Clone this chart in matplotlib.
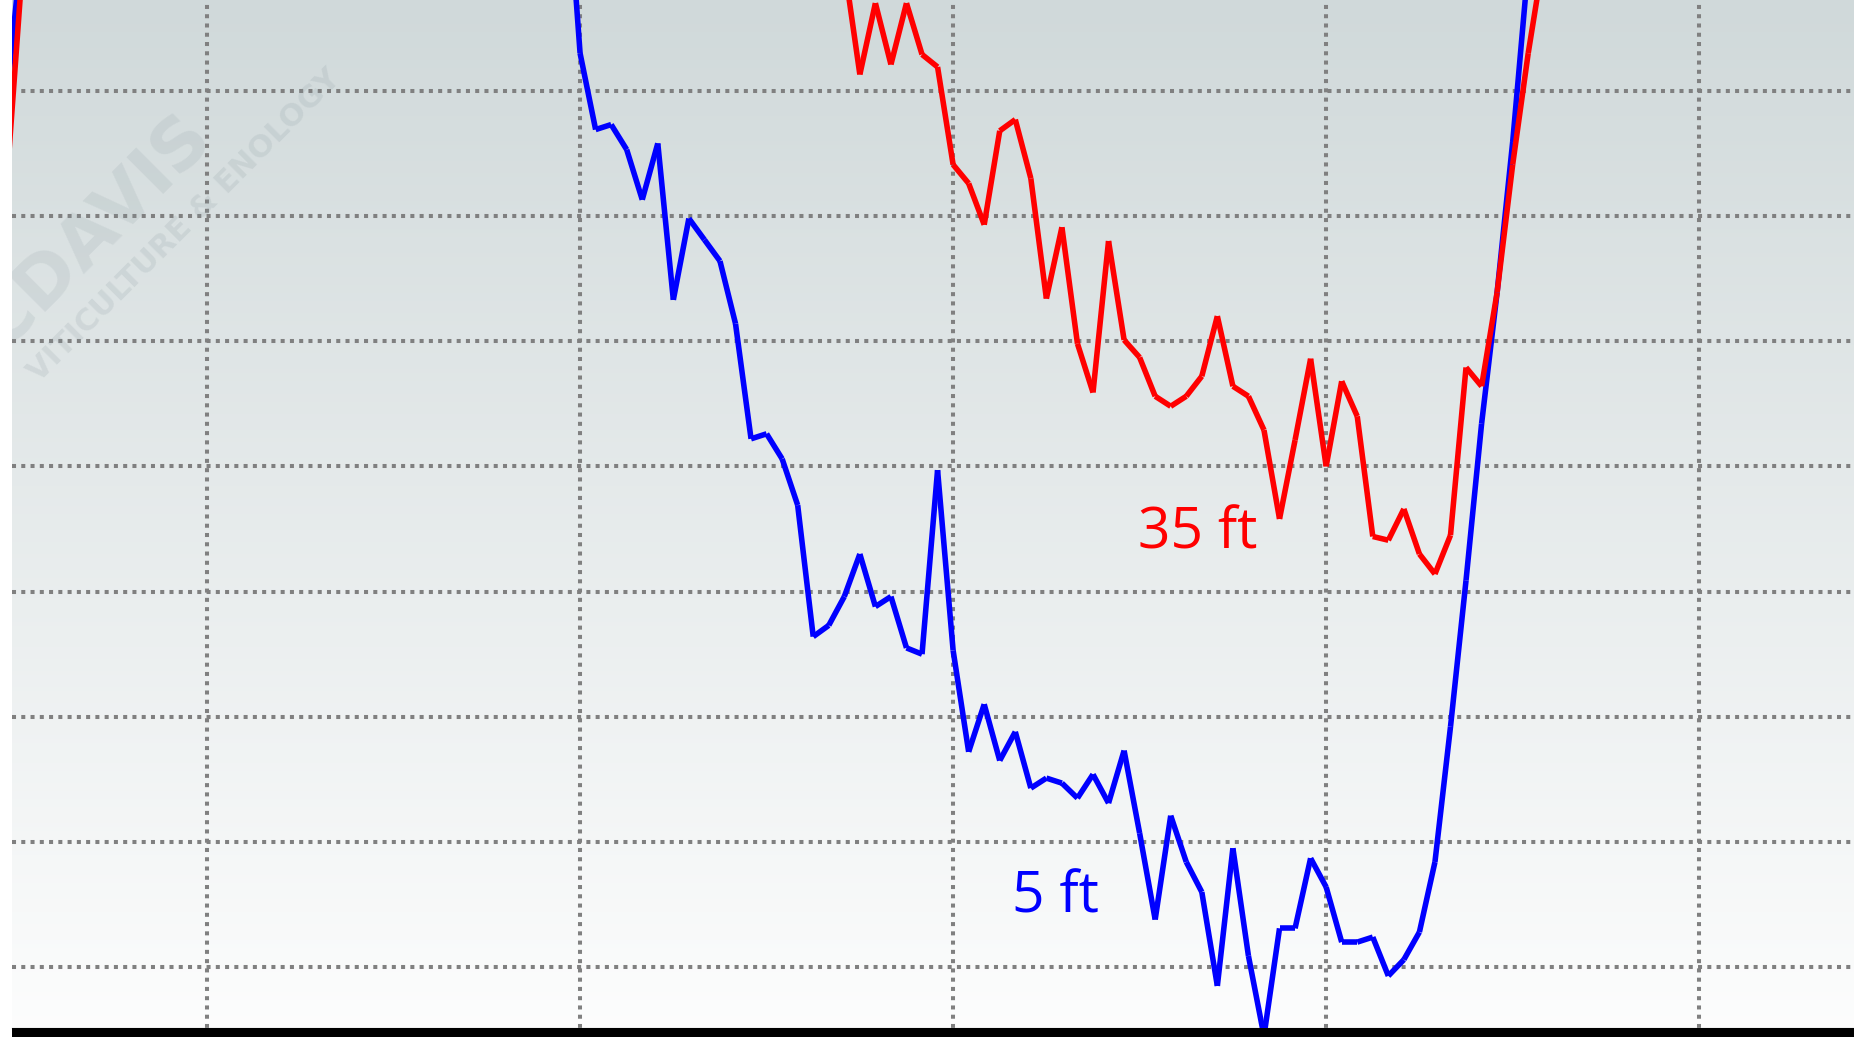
import numpy as np
import matplotlib.pyplot as plt
from matplotlib.collections import LineCollection
from matplotlib.patches import Rectangle

# logger readings every 15 min, x = hours since midnight of day 1
step = 0.25
start_5ft = 17.75
temp_5ft = [37.0, 35.30, 34.69, 34.73, 34.53, 34.13, 34.58, 33.33, 33.98, 33.81,
            33.64, 33.14, 32.22, 32.26, 32.06, 31.69, 30.64, 30.73, 30.96, 31.30,
            30.88, 30.96, 30.55, 30.50, 31.97, 30.53, 29.72, 30.10, 29.65, 29.88,
            29.43, 29.51, 29.47, 29.35, 29.54, 29.31, 29.73, 29.07, 28.38, 29.21,
            28.84, 28.60, 27.85, 28.95, 28.09, 27.45, 28.31, 28.31, 28.87, 28.64,
            28.20, 28.20, 28.24, 27.93, 28.06, 28.28, 28.84, 29.92, 31.09, 32.34,
            33.39, 34.59, 36.0]
start_35ft = 22.25
temp_35ft = [36.0, 35.13, 35.70, 35.21, 35.70, 35.29, 35.19, 34.41, 34.26, 33.93,
             34.68, 34.77, 34.30, 33.34, 33.91, 32.98, 32.59, 33.80, 33.01, 32.87,
             32.56, 32.48, 32.56, 32.72, 33.20, 32.64, 32.56, 32.29, 31.58, 32.21,
             32.86, 32.00, 32.68, 32.40, 31.44, 31.41, 31.66, 31.30, 31.14, 31.45,
             32.79, 32.64, 33.39, 34.41, 35.30, 36.07]
# end of the previous morning's warm-up (left edge)
morning_hours = [8.75, 9.0, 9.25]
morning_5ft = [34.8, 36.05, 37.3]
morning_35ft = [34.07, 35.78, 37.5]

grid_hours = [12, 18, 24, 30, 36]
grid_temps = [28, 29, 30, 31, 32, 33, 34, 35]

hours_5ft = start_5ft + step * np.arange(len(temp_5ft))
hours_35ft = start_35ft + step * np.arange(len(temp_35ft))

W, H = 1854, 1037
fig = plt.figure(figsize=(W / 100, H / 100), dpi=100)
fig.patch.set_facecolor('white')
ax = fig.add_axes([12 / W, 9 / H, (W - 12) / W, (H - 9) / H])

ax.set_xlim(8.863, 38.49)
ax.set_ylim(27.514, 35.725)

# background gradient
grad = np.linspace(0, 1, 256)[:, None]
top = np.array([0.816, 0.851, 0.855])
bot = np.array([0.99, 0.992, 0.992])
img = top + (bot - top) * grad[:, :, None]
ax.imshow(img, extent=[0, 1, 0, 1], transform=ax.transAxes, aspect='auto', zorder=0)

# watermark
ax.text(0.033, 0.757, 'UCDAVIS', transform=ax.transAxes, rotation=45,
        ha='center', va='center', fontsize=52, fontweight='bold',
        color='#8a9aa0', alpha=0.16, clip_on=True, zorder=1)
ax.text(0.0939, 0.7811, 'VITICULTURE & ENOLOGY', transform=ax.transAxes, rotation=45,
        ha='center', va='center', fontsize=22, fontweight='bold',
        color='#8a9aa0', alpha=0.18, clip_on=True, zorder=1)

ax.set_xticks(grid_hours)
ax.set_yticks(grid_temps)
ax.tick_params(length=0, labelbottom=False, labelleft=False)
ax.grid(True, color='#808080', linewidth=2.9, linestyle=(0, (1.0, 1.3)))
ax.set_axisbelow(True)
for s in ['top', 'left', 'right']:
    ax.spines[s].set_visible(False)
ax.spines['bottom'].set_color('#c0c0c0')
ax.spines['bottom'].set_linewidth(1)


def draw(x, y, color):
    pts = np.column_stack([x, y])
    segs = np.stack([pts[:-1], pts[1:]], axis=1)
    ax.add_collection(LineCollection(segs, colors=color, linewidths=4.0,
                                     capstyle='butt', zorder=3))


draw(morning_hours, morning_5ft, '#0000ff')
draw(hours_5ft, temp_5ft, '#0000ff')
draw(morning_hours, morning_35ft, '#ff0000')
draw(hours_35ft, temp_35ft, '#ff0000')

ax.text(27.93, 31.34, '35 ft', color='#ff0000', fontsize=41, family='Open Sans',
        ha='center', va='baseline', zorder=4)
ax.text(25.64, 28.44, '5 ft', color='#0000ff', fontsize=41, family='Open Sans',
        ha='center', va='baseline', zorder=4)

# black base bar
fig.patches.append(Rectangle((12 / W, 0), 1, 9 / H, transform=fig.transFigure,
                             facecolor='black', edgecolor='none'))

fig.savefig('out.png', dpi=100)
